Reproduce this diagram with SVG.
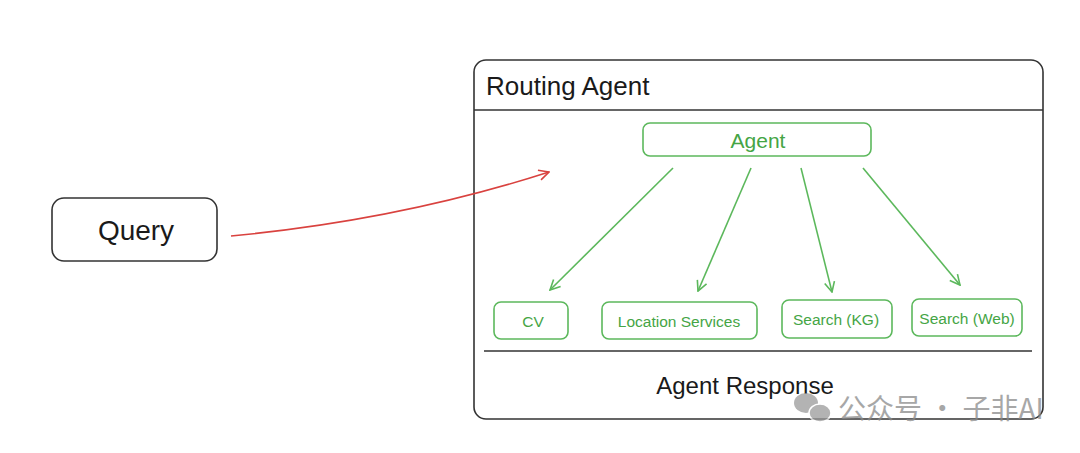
<svg xmlns="http://www.w3.org/2000/svg" width="1080" height="453" viewBox="0 0 1080 453">
<style>
.dark{fill:#fff;stroke:#333;stroke-width:1.6}
.g{fill:#fff;stroke:#5cb85c;stroke-width:1.6}
.gt{font-family:"Liberation Sans",Arial,sans-serif;fill:#45a545;text-anchor:middle;dominant-baseline:central}
.kt{font-family:"Liberation Sans",Arial,sans-serif;fill:#1a1a1a}
.ga{stroke:#5cb85c;stroke-width:1.6;fill:none;marker-end:url(#ag)}
</style>
<defs>
<marker id="ag" viewBox="0 0 12 12" refX="11" refY="6" markerWidth="12" markerHeight="12" markerUnits="userSpaceOnUse" orient="auto">
<path d="M1,1 L11,6 L1,11" fill="none" stroke="#5cb85c" stroke-width="1.6"/>
</marker>
<marker id="ar" viewBox="0 0 12 12" refX="11" refY="6" markerWidth="12" markerHeight="12" markerUnits="userSpaceOnUse" orient="auto">
<path d="M1,1 L11,6 L1,11" fill="none" stroke="#d9423f" stroke-width="1.6"/>
</marker>
</defs>
<rect width="1080" height="453" fill="#fff"/>
<g id="routing-agent">
<rect class="dark" x="474" y="60" width="569" height="359" rx="12"/>
<line x1="474" y1="110" x2="1043" y2="110" stroke="#333" stroke-width="1.6"/>
<text class="kt" x="486" y="95" font-size="26">Routing Agent</text>
<line x1="484" y1="351" x2="1032" y2="351" stroke="#333" stroke-width="1.6"/>
<text class="kt" x="745" y="394" font-size="24" text-anchor="middle">Agent Response</text>
</g>
<g id="query">
<rect class="dark" x="52" y="198" width="165" height="63" rx="12"/>
<text class="kt" x="136" y="240" font-size="28" text-anchor="middle">Query</text>
</g>
<g id="agent">
<rect class="g" x="643" y="123" width="228" height="33" rx="7"/>
<text class="gt" x="758" y="140" font-size="21">Agent</text>
</g>
<g id="cv">
<rect class="g" x="494" y="302" width="74" height="37" rx="7"/>
<text class="gt" x="533" y="321" font-size="15.5">CV</text>
</g>
<g id="location-services">
<rect class="g" x="602" y="302" width="155" height="37" rx="7"/>
<text class="gt" x="679" y="321" font-size="15.5">Location Services</text>
</g>
<g id="search-kg">
<rect class="g" x="782" y="300" width="110" height="38" rx="7"/>
<text class="gt" x="836" y="319" font-size="15.5">Search (KG)</text>
</g>
<g id="search-web">
<rect class="g" x="912" y="299" width="110" height="37" rx="7"/>
<text class="gt" x="967" y="318" font-size="15.5">Search (Web)</text>
</g>
<g id="connectors">
<path d="M231,236 Q400,220 549,172" stroke="#d9423f" stroke-width="1.6" fill="none" marker-end="url(#ar)"/>
<line class="ga" x1="673" y1="168" x2="550" y2="290"/>
<line class="ga" x1="751" y1="168" x2="698" y2="291"/>
<line class="ga" x1="801" y1="168" x2="832" y2="292"/>
<line class="ga" x1="863" y1="168" x2="960" y2="285"/>
</g>
<g id="watermark" opacity="0.75">
<ellipse cx="806" cy="403" rx="12" ry="10" fill="#9a9a9a"/>
<ellipse cx="820" cy="413" rx="11" ry="9" fill="#9a9a9a" stroke="#fff" stroke-width="1.5"/>
<text x="838" y="419" font-size="28" fill="#8a8a8a" font-family="'Noto Sans CJK SC','Liberation Sans',sans-serif">公众号 · 子非AI</text>
</g>
</svg>
